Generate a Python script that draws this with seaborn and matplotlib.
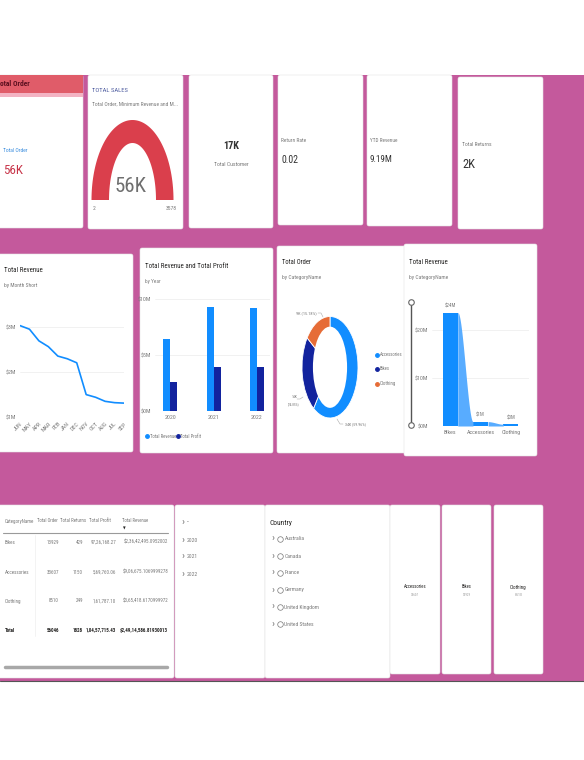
import os
import numpy as np
import pandas as pd
import seaborn as sns
import matplotlib.pyplot as plt
from matplotlib import font_manager as fm
from matplotlib.textpath import TextPath
from matplotlib.patches import FancyBboxPatch, Rectangle, Ellipse

# ---- data ----
month_short = ["JUN", "MAY", "APR", "MAR", "FEB", "JAN", "DEC", "NOV", "OCT", "AUG", "JUL", "SEP"]
month_revenue = [3.04, 2.96, 2.70, 2.57, 2.36, 2.30, 2.21, 1.50, 1.44, 1.35, 1.32, 1.31]  # $M

years = ["2020", "2021", "2022"]
year_revenue = [6.4, 9.3, 9.2]   # $M
year_profit = [2.6, 3.95, 3.9]   # $M

categories = ["Bikes", "Accessories", "Clothing"]
cat_orders = [13929, 33607, 8510]
cat_returns = [429, 1150, 249]
cat_revenue = [23642495.0952002, 906675.1069999278, 365418.6170999972]
cat_profit_txt = ["97,26,168.27", "5,69,760.06", "1,61,787.10"]
cat_revenue_txt = ["$2,36,42,495.0952002", "$9,06,675.1069999278", "$3,65,418.6170999972"]
total_row = ["Total", "56046", "1828", "1,04,57,715.43", "$2,49,14,586.81930013"]
table_cols = ["CategoryName", "Total Order", "Total Returns", "Total Profit", "Total Revenue"]

donut_order = ["Accessories", "Bikes", "Clothing"]

gauge_value, gauge_min, gauge_max = 56046, 2, 3578
kpis = [("17K", "Total Customer"), ("Return Rate", "0.02"), ("YTD Revenue", "9.19M"), ("Total Returns", "2K")]
slicer_years = ["--", "2020", "2021", "2022"]
countries = ["Australia", "Canada", "France", "Germany", "United Kingdom", "United States"]

BLUE, NAVY, ORANGE = "#118DFF", "#12239E", "#E66C37"
PINK = "#C4599C"
GRAY, DARK = "#7a7a7a", "#252423"

sns.set_style("white")

# the screenshot is squeezed sideways, so use the narrowest installed sans face
fams = ("DejaVu Sans", "Liberation Sans", "Noto Sans", "Roboto", "Open Sans", "Lato", "Inter")


def base_name(n):
    for w in (" ExtraCondensed", " SemiCondensed", " Condensed", " Narrow"):
        n = n.replace(w, "")
    return n


def face_width(f):
    try:
        return TextPath((0, 0), "Total Revenue 0123", size=10,
                        prop=fm.FontProperties(fname=f.fname)).get_extents().width
    except Exception:
        return 1e9


cands = [f for f in fm.fontManager.ttflist if base_name(f.name) in fams and f.style == "normal"
         and str(f.weight).lower() in ("400", "normal", "regular", "book")]
best = min(cands, key=face_width)
bolds = [f for f in fm.fontManager.ttflist if f.name == best.name and f.stretch == best.stretch
         and f.style == "normal" and str(f.weight).lower() in ("700", "bold")]
bold = max(bolds, key=lambda f: len(os.path.commonprefix([f.fname, best.fname])), default=None)
keep = {best.fname} | ({bold.fname} if bold else set())
fm.fontManager.ttflist = [f for f in fm.fontManager.ttflist if f.name != best.name or f.fname in keep]
plt.rcParams["font.family"] = [best.name, "DejaVu Sans"]
plt.rcParams["font.stretch"] = best.stretch

W, H = 584, 760
fig = plt.figure(figsize=(W / 100, H / 100), dpi=100)
renderer = fig.canvas.get_renderer()
bg = fig.add_axes([0, 0, 1, 1])
bg.set_xlim(0, W)
bg.set_ylim(H, 0)
bg.axis("off")
bg.add_patch(Rectangle((0, 75), W, 606, color=PINK, lw=0))
bg.plot([0, W], [680.5, 680.5], color="#555555", lw=0.8)


def card(x0, y0, x1, y1):
    bg.add_patch(FancyBboxPatch((x0, y0), x1 - x0, y1 - y0, boxstyle="round,pad=0,rounding_size=2",
                                fc="white", ec="#e4e4e4", lw=0.4))


def txt(x, y, s, size=4.5, color=GRAY, w=None, **kw):
    # size is the largest size; w (px) is the width the text has in the screenshot
    kw.setdefault("va", "center")
    t = bg.text(x, y, s, fontsize=size, color=color, **kw)
    if w:
        tw = t.get_window_extent(renderer).width
        if tw > w:
            t.set_fontsize(size * w / tw)
    return t


def fit(s, size, w, **kw):
    t = bg.text(0, 0, s, fontsize=size, **kw)
    tw = t.get_window_extent(renderer).width
    t.remove()
    return min(size, size * w / tw)


def sub(x0, y0, x1, y1):
    a = fig.add_axes([x0 / W, 1 - y1 / H, (x1 - x0) / W, (y1 - y0) / H])
    a.set_facecolor("none")
    return a


def style(a, size=4):
    sns.despine(ax=a, left=True, bottom=True)
    a.tick_params(length=0, labelsize=size, colors=GRAY, pad=3)
    a.set_xlabel("")
    a.set_ylabel("")


# ---- row 1 cards ----
for box in [(-5, 75, 83, 228), (88, 75, 183, 229), (189, 75, 273, 228), (278, 75, 363, 225),
            (367, 75, 452, 226), (458, 77, 543, 229)]:
    card(*box)

bg.add_patch(Rectangle((-5, 75), 88, 18, color="#E05C69", lw=0))
bg.add_patch(Rectangle((-5, 93), 88, 4, color="#F3B3C3", lw=0))
txt(-4, 84, "Total Order", 7, "#5c1020", w=34, weight="bold")
txt(3, 151, "Total Order", 4.5, "#3A8DDE", w=24)
txt(3, 170, f"{round(sum(cat_orders) / 1000)}K", 11, "#C8364A", w=20)

txt(92, 90, "TOTAL SALES", 7, "#4F5DA0", w=36)
txt(92, 104, "Total Order, Minimum Revenue and M...", 4.5, GRAY, w=85)
frac = np.clip((gauge_value - gauge_min) / (gauge_max - gauge_min), 0, 1)
ang = np.linspace(np.pi, np.pi - np.pi * frac, 80)
gx, gy = 132.5, 200
outer = np.c_[gx + 41 * np.cos(ang), gy - 80 * np.sin(ang)]
inner = np.c_[gx + 23.5 * np.cos(ang[::-1]), gy - 57 * np.sin(ang[::-1])]
bg.fill(*np.r_[outer, inner].T, color="#DA3F4C", lw=0)
txt(131, 187, f"{round(gauge_value / 1000)}K", 17, "#6f6f6f", w=32, ha="center")
txt(93, 209, str(gauge_min), 4, GRAY)
txt(177, 209, str(gauge_max), 4, GRAY, w=12, ha="right")

txt(231, 146, kpis[0][0], 11, "#333333", w=16, ha="center", weight="bold")
txt(231, 165, kpis[0][1], 4.5, GRAY, w=35, ha="center")
for (lab, val), x, y, w1, w2 in zip(kpis[1:], [281, 370, 462], [141, 141, 145], [25, 27, 30], [17, 23, 13]):
    txt(x, y, lab, 4.5, GRAY, w=w1)
    txt(x, y + 19, val, 10, "#333333", w=w2)

# ---- row 2 cards ----
for box in [(-5, 254, 133, 452), (140, 248, 273, 453), (277, 246, 407, 453), (404, 244, 537, 456)]:
    card(*box)

titles = [(4, 271, "Total Revenue", "by Month Short", 39, 34),
          (145, 266, "Total Revenue and Total Profit", "by Year", 83, 15),
          (282, 263, "Total Order", "by CategoryName", 30, 39),
          (409, 263, "Total Revenue", "by CategoryName", 39, 39)]
for x, y, t, s, w1, w2 in titles:
    txt(x, y, t, 7, DARK, w=w1)
    txt(x, y + 15, s, 4.5, GRAY, w=w2)

# line chart
ax = sub(20, 305, 124, 417)
sns.lineplot(x=np.arange(len(month_short)), y=month_revenue, ax=ax, color=BLUE, lw=1.2)
ax.set_xlim(0, len(month_short) - 1)
ax.set_ylim(1, 3.5)
ax.set_yticks([1, 2, 3], ["$1M", "$2M", "$3M"])
ax.set_xticks(range(len(month_short)), month_short, rotation=45, ha="right", rotation_mode="anchor")
ax.grid(axis="y", color="#ececec", lw=0.5)
style(ax, 4.2)

# clustered bars
ax = sub(155, 299, 270, 411)
df = pd.DataFrame({"Year": years * 2, "Value": year_revenue + year_profit,
                   "Measure": ["Total Revenue"] * 3 + ["Total Profit"] * 3})
sns.barplot(df, x="Year", y="Value", hue="Measure", palette=[BLUE, NAVY], width=0.32,
            linewidth=0, legend=False, saturation=1, ax=ax)
ax.set_ylim(0, 10)
ax.set_xlim(-0.35, 2.3)
ax.set_yticks([0, 5, 10], ["$0M", "$5M", "$10M"])
ax.grid(axis="y", color="#ececec", lw=0.5)
ax.set_axisbelow(True)
style(ax, 4.2)
for x, c, lab, w in [(147, BLUE, "Total Revenue", 26), (178, NAVY, "Total Profit", 21)]:
    bg.plot(x, 436, "o", ms=2.5, color=c)
    txt(x + 2.5, 436, lab, 4, GRAY, w=w)

# donut
ax = sub(302, 316.5, 358, 418)
vals = [cat_orders[categories.index(c)] for c in donut_order]
ax.pie(vals, colors=[BLUE, NAVY, ORANGE], startangle=90, counterclock=False,
       wedgeprops=dict(lw=0.6, ec="white"))
ax.set_aspect("auto")
ax.set_xlim(-1, 1)
ax.set_ylim(-1, 1)
ax.add_patch(Ellipse((0, 0), 2 * 0.61, 2 * 0.80, fc="white", ec="none"))
tot = sum(vals)
lab = {c: (f"{round(v / 1000)}K", f"({100 * v / tot:.2f}%)") for c, v in zip(donut_order, vals)}
txt(296, 313, f"{lab['Clothing'][0]} {lab['Clothing'][1]}", 3.5, GRAY, w=20)
bg.plot([318, 321, 323], [313, 313, 317], color="#aaaaaa", lw=0.4)
txt(292, 397, lab["Bikes"][0], 3.5, GRAY, w=6)
txt(288, 404, lab["Bikes"][1], 3.5, GRAY, w=12)
bg.plot([297, 300, 303], [399, 399, 397], color="#aaaaaa", lw=0.4)
txt(345, 424, f"{lab['Accessories'][0]} {lab['Accessories'][1]}", 3.5, GRAY, w=21)
bg.plot([337, 340, 343], [419, 424, 424], color="#aaaaaa", lw=0.4)
for c, col, y, w in zip(donut_order, [BLUE, NAVY, ORANGE], [355, 369, 384], [22, 10, 16]):
    bg.plot(377, y, "o", ms=2.5, color=col)
    txt(379.5, y, c, 4.2, GRAY, w=w)

# ribbon-style bars
ax = sub(432, 306, 529, 426)
rev_m = [v / 1e6 for v in cat_revenue]
sns.barplot(x=categories, y=rev_m, color=BLUE, width=0.5, linewidth=0, ax=ax, saturation=1)
for i in range(len(rev_m) - 1):
    xs = np.linspace(i + 0.25, i + 0.75, 40)
    t = (xs - xs[0]) / (xs[-1] - xs[0])
    ax.fill_between(xs, 0, rev_m[i] + (rev_m[i + 1] - rev_m[i]) * t * t * (3 - 2 * t), color="#58ACFF", lw=0)
for i, v in enumerate(rev_m):
    ax.text(i, v + 0.8, f"${v:.0f}M", ha="center", va="bottom", fontsize=3.6, color=GRAY)
ax.set_ylim(0, 25)
ax.set_xlim(-0.6, 2.6)
ax.set_yticks([0, 10, 20], ["$0M", "$10M", "$20M"])
ax.grid(axis="y", color="#ececec", lw=0.5)
ax.set_axisbelow(True)
style(ax, 4.2)
bg.plot([411, 411], [302, 425], color="#555555", lw=1)
bg.plot([411, 411], [302, 425], "o", ms=4, mfc="white", mec="#666666", mew=0.8)

# ---- row 3 ----
for box in [(-5, 505, 174, 678), (175, 505, 265, 678), (265, 505, 390, 678),
            (390, 505, 440, 674), (442, 505, 491, 674), (494, 505, 543, 674)]:
    card(*box)

fs = fit(total_row[-1], 4.5, 48, weight="bold")
col_x = [5, 59, 83, 116, 168]
for x, c, w in zip([5, 37, 60, 89, 122], table_cols, [30, 21, 26, 22, 26]):
    txt(x, 521, c, fs, GRAY, w=w)
txt(123, 528, "\u25BC", 2.8, DARK)
bg.plot([3, 168], [533, 533], color="#9a9a9a", lw=0.8)
bg.plot([35, 35], [535, 636], color="#eeeeee", lw=0.5)
rows = [[c, str(o), str(r), p, v] for c, o, r, p, v in
        zip(categories, cat_orders, cat_returns, cat_profit_txt, cat_revenue_txt)] + [total_row]
for y, row in zip([542, 572, 601, 630], rows):
    bold_row = row[0] == "Total"
    wt = "bold" if bold_row else "normal"
    col = DARK if bold_row else GRAY
    txt(5, y, row[0], fs, col, weight=wt)
    for x, s in zip(col_x[1:], row[1:]):
        txt(x, y, s, fs, col, ha="right", weight=wt)
bg.plot([5, 167], [667, 667], color="#a8a8a8", lw=2.5, solid_capstyle="round")

fs2 = fit("United Kingdom", 5, 36)
for y, s in zip([522, 540, 557, 574], slicer_years):
    txt(181, y - 0.5, "\u203A", 8, GRAY)
    txt(187, y, s, fs2, GRAY)

txt(270, 523, "Country", 8, DARK, w=23)
for y, s in zip([539, 556, 573, 590, 607, 624], countries):
    txt(271, y - 0.5, "\u203A", 8, GRAY)
    bg.plot(280, y, "o", ms=4, mfc="white", mec="#777777", mew=0.5)
    txt(284.5, y, s, fs2, GRAY)

for cx, c, w in zip([415, 466.5, 518.5], ["Accessories", "Bikes", "Clothing"], [23, 10, 17]):
    txt(cx, 587, c, 5, DARK, w=w, ha="center")
    txt(cx, 595, str(cat_orders[categories.index(c)]), 3, "#999999", w=8, ha="center")

fig.savefig("out.png", dpi=100)
